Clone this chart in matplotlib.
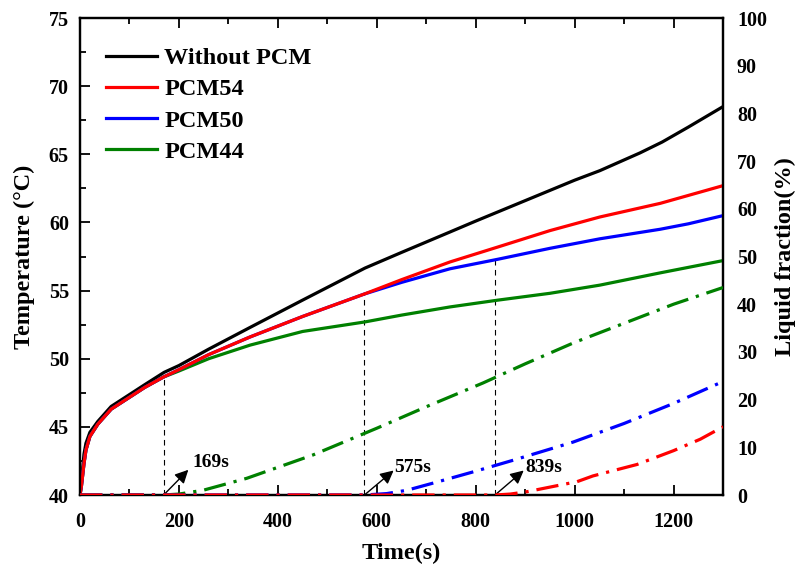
import matplotlib
matplotlib.use('Agg')
import matplotlib.pyplot as plt
from matplotlib.ticker import MultipleLocator

plt.rcParams['font.family'] = ['Liberation Serif', 'DejaVu Serif']
plt.rcParams['font.weight'] = 'bold'

# temperature curves (°C)
t_black = [0, 3, 8, 12, 20, 36, 63, 97, 131, 170, 200, 260, 344, 450, 576, 650,
           748, 800, 900, 1000, 1051, 1132, 1177, 1230, 1300]
T_black = [40, 41, 43, 43.8, 44.6, 45.4, 46.5, 47.3, 48.1, 49.0, 49.5, 50.7, 52.3,
           54.3, 56.65, 57.8, 59.3, 60.1, 61.6, 63.1, 63.8, 65.1, 65.9, 67.0, 68.5]

t_early = [0, 3, 8, 12, 20, 36, 63, 97, 131, 169]
T_early = [40, 40.7, 42.3, 43.3, 44.3, 45.2, 46.3, 47.1, 47.9, 48.66]

t_mid = [200, 260, 344, 450, 575]
T_mid = [49.2, 50.3, 51.6, 53.1, 54.75]

t_red = [650, 748, 845, 950, 1051, 1173, 1300]
T_red = [55.8, 57.1, 58.2, 59.4, 60.4, 61.4, 62.7]

t_blue = [650, 748, 845, 950, 1051, 1173, 1230, 1300]
T_blue = [55.6, 56.6, 57.3, 58.1, 58.8, 59.5, 59.9, 60.5]

t_green = [200, 260, 344, 450, 576, 650, 748, 845, 950, 1051, 1173, 1300]
T_green = [49.1, 50.0, 51.0, 52.0, 52.7, 53.2, 53.8, 54.3, 54.8, 55.4, 56.3, 57.2]

# liquid fraction (%)
tf_green = [0, 169, 200, 249, 337, 471, 600, 700, 815, 900, 1000, 1100, 1200, 1300]
f_green = [0, 0, 0.2, 1, 3.5, 8.4, 14, 18.5, 23.5, 27.5, 32, 36, 40, 43.5]
tf_blue = [0, 575, 620, 661, 721, 800, 876, 997, 1100, 1200, 1300]
f_blue = [0, 0, 0.3, 1, 2.7, 5.0, 7.3, 11.1, 15, 19.2, 23.8]
tf_red = [0, 839, 870, 904, 1005, 1037, 1126, 1200, 1254, 1300]
f_red = [0, 0, 0.2, 0.7, 2.8, 4.0, 6.4, 9.3, 11.7, 14.3]

onset = [169, 575, 839]
onset_T = [48.66, 54.75, 57.3]
onset_lbl = ['169s', '575s', '839s']
arrow_head = [(219, 41.85), (634, 41.8), (897, 41.8)]
lbl_pos = [(228, 42.35), (636, 42.05), (900, 42.05)]

fig = plt.figure(figsize=(7.97, 5.68), dpi=100)
ax = fig.add_axes([0.1004, 0.1285, 0.8068, 0.8398])

ax.plot(t_black, T_black, color='black', lw=2.3, label='Without PCM', zorder=3)
ax.plot(t_early + t_mid + t_red, T_early + T_mid + T_red, color='red', lw=2.3,
        label='PCM54', zorder=6)
ax.plot(t_early + t_mid + t_blue, T_early + T_mid + T_blue, color='blue', lw=2.3,
        label='PCM50', zorder=5)
ax.plot(t_early + t_green, T_early + T_green, color='green', lw=2.3,
        label='PCM44', zorder=4)

for x, y in zip(onset, onset_T):
    ax.plot([x, x], [40, y], color='black', lw=0.8, ls=(0, (5, 4)), zorder=2)

for x, h, p, s in zip(onset, arrow_head, lbl_pos, onset_lbl):
    ax.annotate('', xy=h, xytext=(x, 40),
                arrowprops=dict(arrowstyle='-|>', color='black', lw=1.0,
                                mutation_scale=20, shrinkA=0, shrinkB=0), zorder=8)
    ax.text(p[0], p[1], s, fontsize=14, fontweight='bold', ha='left', va='center', zorder=8)

ax.set_xlim(0, 1300)
ax.set_ylim(40, 75)
ax.xaxis.set_major_locator(MultipleLocator(200))
ax.xaxis.set_minor_locator(MultipleLocator(100))
ax.yaxis.set_major_locator(MultipleLocator(5))
ax.yaxis.set_minor_locator(MultipleLocator(2.5))
ax.tick_params(which='both', direction='in', top=True, right=True, width=1.3,
               labelsize=14.5)
ax.tick_params(which='major', length=7)
ax.tick_params(which='minor', length=4)
ax.tick_params(axis='x', which='major', pad=12)
ax.tick_params(axis='y', which='major', pad=8)
ax.set_xlabel('Time(s)', fontsize=17.5, fontweight='bold', labelpad=8)
ax.set_ylabel('Temperature (°C)', fontsize=17.5, fontweight='bold', labelpad=10)
for sp in ax.spines.values():
    sp.set_linewidth(1.6)

leg = ax.legend(loc='upper left', bbox_to_anchor=(0.04, 0.939), frameon=False,
                fontsize=17.5, handlelength=2.1, handletextpad=0.3,
                labelspacing=0.38, borderpad=0, borderaxespad=0)

ax2 = ax.twinx()
dd = (0, (7, 2.5, 1, 2.5))
ax2.plot(tf_green, f_green, color='green', lw=2.3, ls=dd, zorder=3)
ax2.plot(tf_blue, f_blue, color='blue', lw=2.3, ls=dd, zorder=4)
ax2.plot(tf_red, f_red, color='red', lw=2.3, ls=dd, zorder=5)
ax2.set_ylim(0, 100)
ax2.yaxis.set_major_locator(MultipleLocator(10))
ax2.tick_params(axis='y', length=0, labelsize=14.5, pad=10)
ax2.set_ylabel('Liquid fraction(%)', fontsize=17.5, fontweight='bold', labelpad=6)
for sp in ax2.spines.values():
    sp.set_linewidth(1.6)

fig.savefig('out.png', dpi=100)
